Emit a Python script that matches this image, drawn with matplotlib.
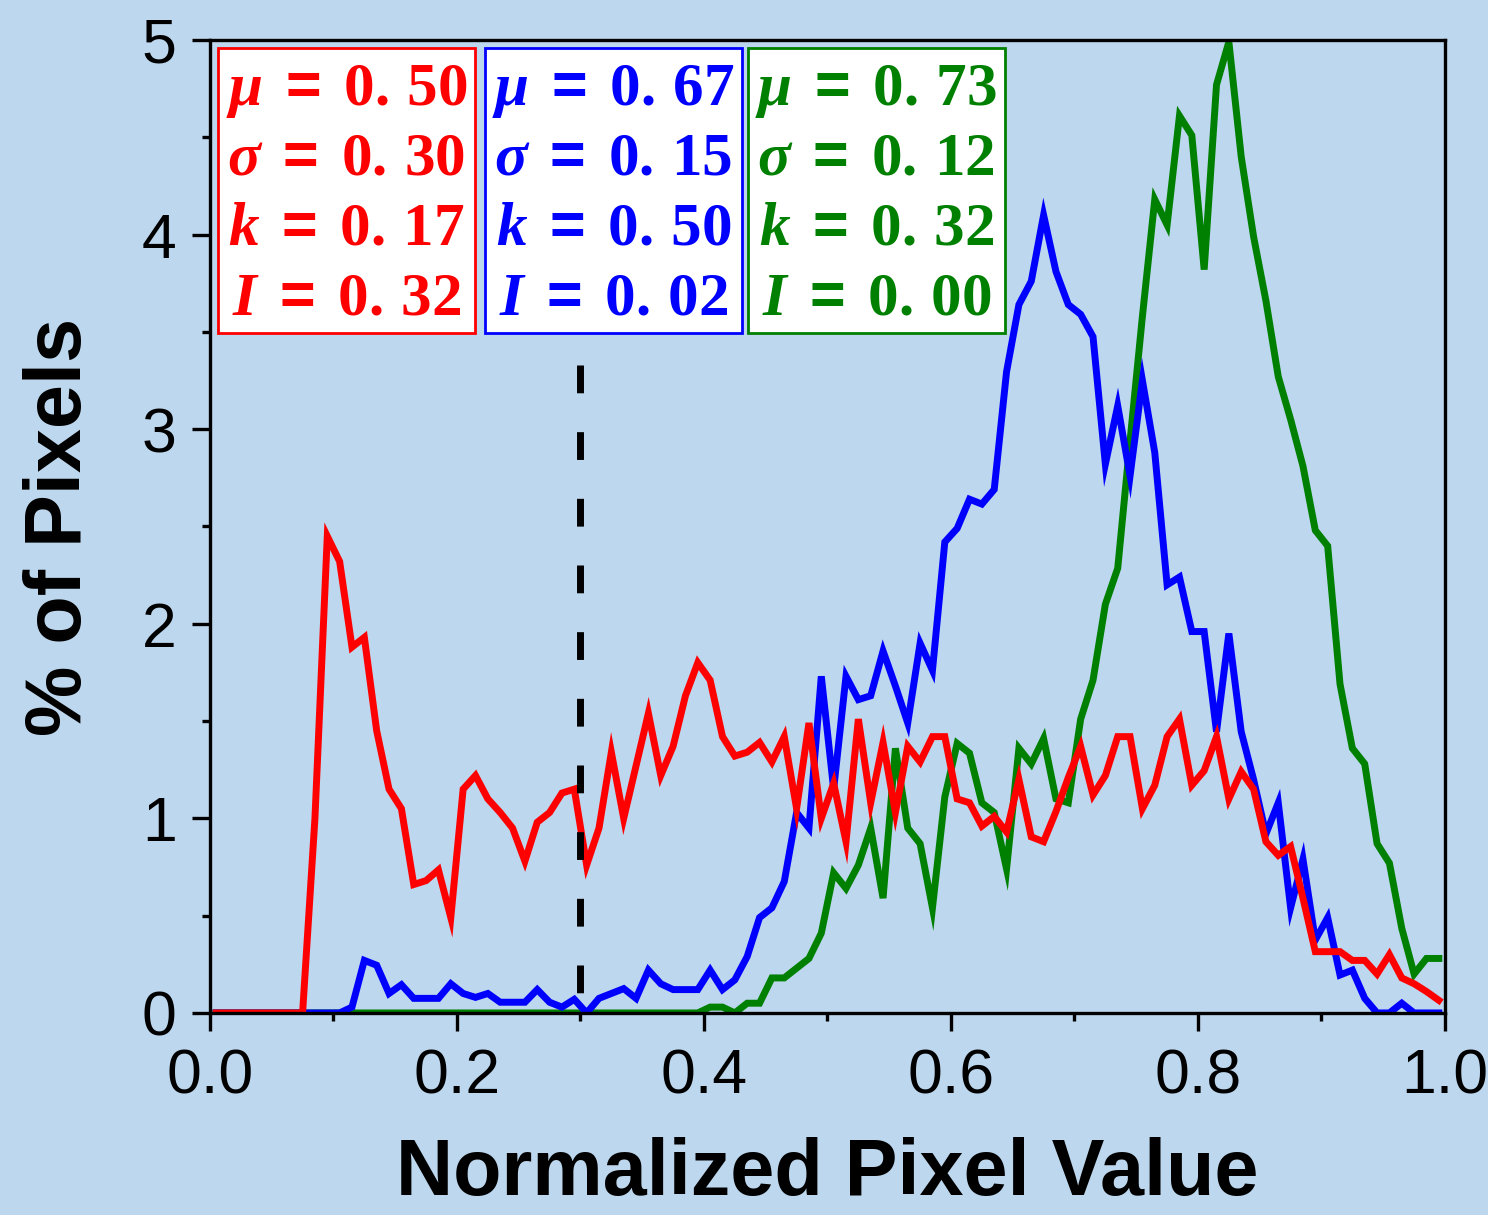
import numpy as np
import matplotlib
matplotlib.use("Agg")
import matplotlib.pyplot as plt
from matplotlib.patches import Rectangle

# Histogram bins (100 bins over the normalized range)
bins = np.arange(100) / 100 + 0.005

red_pct = [
    0, 0, 0, 0, 0, 0, 0, 0, 1.00, 2.45,
    2.32, 1.88, 1.93, 1.45, 1.15, 1.05, 0.66, 0.68, 0.735, 0.49,
    1.15, 1.22, 1.10, 1.03, 0.95, 0.78, 0.98, 1.03, 1.13, 1.15,
    0.76, 0.95, 1.34, 1.00, 1.27, 1.54, 1.22, 1.37, 1.63, 1.80,
    1.71, 1.42, 1.32, 1.34, 1.39, 1.29, 1.42, 1.05, 1.49, 1.00,
    1.18, 0.88, 1.51, 1.08, 1.39, 1.03, 1.37, 1.29, 1.42, 1.42,
    1.10, 1.08, 0.96, 1.01, 0.93, 1.20, 0.905, 0.88, 1.035, 1.21,
    1.37, 1.12, 1.22, 1.42, 1.42, 1.05, 1.17, 1.42, 1.51, 1.17,
    1.245, 1.42, 1.10, 1.24, 1.15, 0.88, 0.81, 0.855, 0.59, 0.315,
    0.315, 0.315, 0.27, 0.27, 0.20, 0.30, 0.18, 0.15, 0.11, 0.065,
]

blue_pct = [
    0, 0, 0, 0, 0, 0, 0, 0, 0, 0,
    0, 0.03, 0.27, 0.245, 0.10, 0.145, 0.075, 0.075, 0.075, 0.15,
    0.10, 0.08, 0.10, 0.055, 0.055, 0.055, 0.12, 0.055, 0.03, 0.07,
    0.0, 0.075, 0.10, 0.125, 0.075, 0.22, 0.15, 0.12, 0.12, 0.12,
    0.22, 0.12, 0.17, 0.29, 0.49, 0.54, 0.675, 1.03, 0.95, 1.73,
    1.15, 1.73, 1.61, 1.63, 1.86, 1.68, 1.49, 1.90, 1.76, 2.42,
    2.49, 2.64, 2.615, 2.69, 3.295, 3.64, 3.76, 4.10, 3.81, 3.64,
    3.59, 3.475, 2.82, 3.12, 2.76, 3.25, 2.88, 2.20, 2.24, 1.96,
    1.96, 1.445, 1.95, 1.445, 1.20, 0.92, 1.08, 0.54, 0.79, 0.375,
    0.49, 0.195, 0.22, 0.075, 0.0, 0.0, 0.05, 0.0, 0.0, 0.0,
]

green_pct = [
    0, 0, 0, 0, 0, 0, 0, 0, 0, 0,
    0, 0, 0, 0, 0, 0, 0, 0, 0, 0,
    0, 0, 0, 0, 0, 0, 0, 0, 0, 0,
    0, 0, 0, 0, 0, 0, 0, 0, 0, 0,
    0.03, 0.03, 0.0, 0.05, 0.05, 0.18, 0.18, 0.23, 0.28, 0.41,
    0.72, 0.64, 0.76, 0.95, 0.59, 1.36, 0.95, 0.87, 0.54, 1.11,
    1.385, 1.335, 1.08, 1.03, 0.74, 1.36, 1.28, 1.41, 1.10, 1.08,
    1.51, 1.71, 2.10, 2.285, 2.94, 3.58, 4.18, 4.05, 4.61, 4.51,
    3.82, 4.77, 4.99, 4.40, 3.99, 3.66, 3.27, 3.05, 2.81, 2.48,
    2.40, 1.69, 1.36, 1.28, 0.87, 0.77, 0.435, 0.20, 0.28, 0.28,
]

# Summary statistics shown in the boxes
stat_names = [r"\mu", r"\sigma", "k", "I"]
red_stats = ["0.50", "0.30", "0.17", "0.32"]
blue_stats = ["0.67", "0.15", "0.50", "0.02"]
green_stats = ["0.73", "0.12", "0.32", "0.00"]

threshold = 0.3
threshold_top = 3.33

BG = "#BDD7EE"
RED, BLUE, GREEN = "#FF0000", "#0000FF", "#008000"

plt.rcParams["font.family"] = ["Liberation Sans", "DejaVu Sans"]
plt.rcParams["mathtext.fontset"] = "custom"
plt.rcParams["mathtext.rm"] = "Liberation Serif:bold"
plt.rcParams["mathtext.it"] = "Liberation Serif:italic:bold"
plt.rcParams["mathtext.sf"] = "Liberation Sans:bold"

fig = plt.figure(figsize=(14.88, 12.15), dpi=100, facecolor=BG)
ax = fig.add_axes([0.1411, 0.1663, 0.8300, 0.8008])
ax.set_facecolor(BG)

ax.plot(bins, green_pct, color=GREEN, lw=5, solid_joinstyle="miter")
ax.plot(bins, blue_pct, color=BLUE, lw=5, solid_joinstyle="miter")
ax.plot(bins, red_pct, color=RED, lw=5, solid_joinstyle="miter")
ax.plot([threshold, threshold], [threshold_top, 0], color="black", lw=5,
        dashes=(4, 5.6))

ax.set_xlim(0, 1.0)
ax.set_ylim(0, 5)
ax.set_xticks(np.arange(0, 1.01, 0.2))
ax.set_xticklabels([f"{v:.1f}" for v in np.arange(0, 1.01, 0.2)])
ax.set_xticks(np.arange(0.1, 1.0, 0.2), minor=True)
ax.set_yticks(range(6))
ax.set_yticks(np.arange(0.5, 5, 1.0), minor=True)
ax.tick_params(which="major", length=13, width=2.4, labelsize=45,
               direction="out")
ax.tick_params(axis="x", which="major", pad=12)
ax.tick_params(axis="y", which="major", pad=11)
ax.tick_params(which="minor", length=6, width=2.4, direction="out")
for sp in ax.spines.values():
    sp.set_linewidth(2.4)

ax.set_xlabel("Normalized Pixel Value", fontsize=57, fontweight="bold")
ax.set_ylabel("% of Pixels", fontsize=57, fontweight="bold")
ax.xaxis.set_label_coords(0.5, -0.128)
ax.yaxis.set_label_coords(-0.091, 0.5)

# Stat boxes
box_w, box_top, box_bottom = 0.2081, 0.9918, 0.6989
row_y = [0.9332, 0.8613, 0.7893, 0.7174]
for x0, color, vals in [(0.00648, RED, red_stats),
                        (0.2227, BLUE, blue_stats),
                        (0.4356, GREEN, green_stats)]:
    ax.add_patch(Rectangle((x0, box_bottom), box_w, box_top - box_bottom,
                           transform=ax.transAxes, facecolor="white",
                           edgecolor=color, lw=2, zorder=5))
    for name, val, y in zip(stat_names, vals, row_y):
        a, b = val.split(".")
        ax.text(x0 + box_w / 2, y,
                rf"${name}\;\mathsf{{=}}\;{a}.\,{b}$",
                transform=ax.transAxes, ha="center", va="baseline",
                fontsize=44, color=color, zorder=6)

fig.savefig("out.png", dpi=100, facecolor=BG)
